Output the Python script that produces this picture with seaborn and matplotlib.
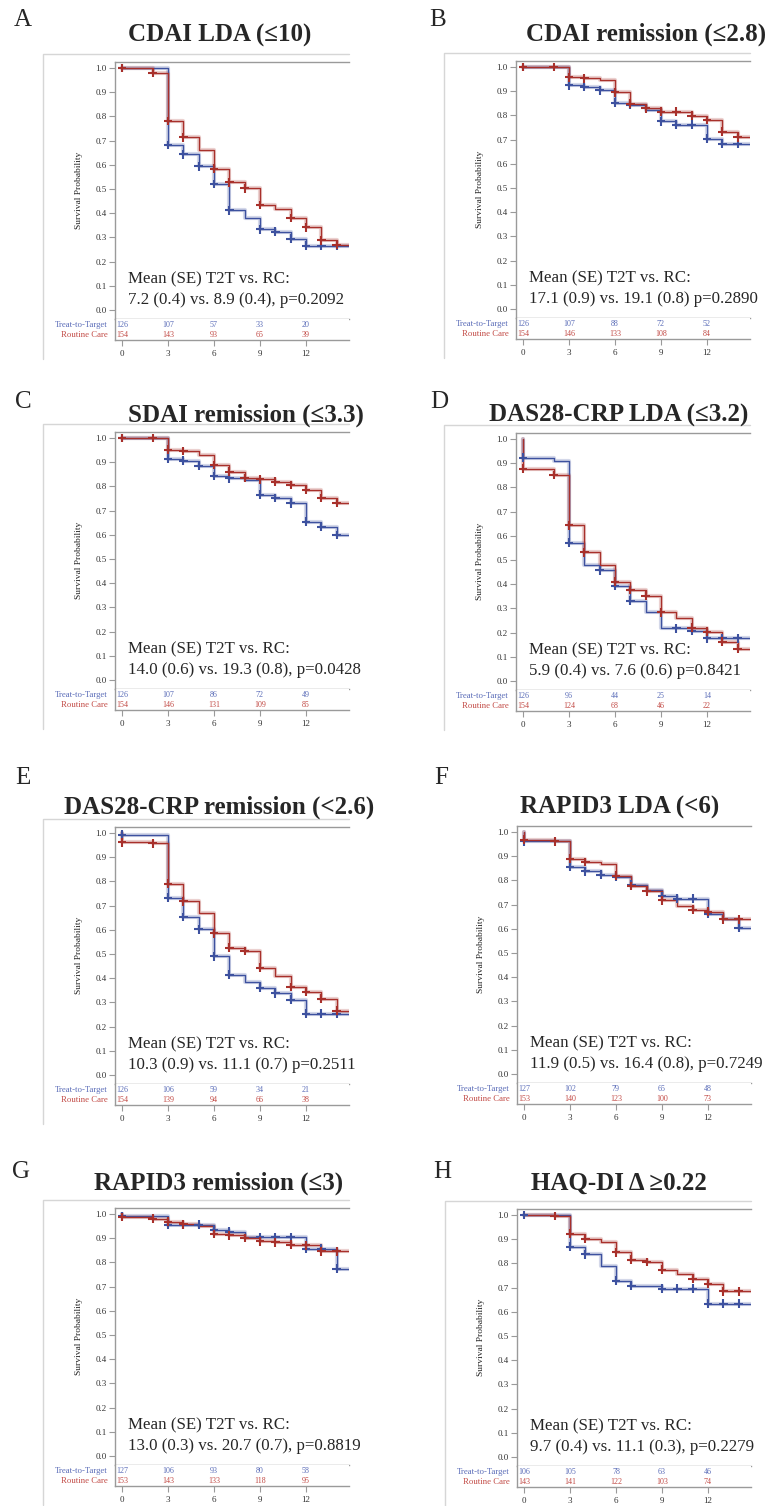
import numpy as np
import pandas as pd
import matplotlib.pyplot as plt
import seaborn as sns
from matplotlib.lines import Line2D


# Survival probability at months 0..14 (value holds from that month on)
MONTHS = list(range(15))

# panel titles and annotation texts
TITLES = ["CDAI LDA (≤10)", "CDAI remission (≤2.8)", "SDAI remission (≤3.3)",
          "DAS28-CRP LDA (≤3.2)", "DAS28-CRP remission (<2.6)", "RAPID3 LDA (<6)",
          "RAPID3 remission (≤3)", "HAQ-DI Δ ≥0.22"]
LETTERS = ["A", "B", "C", "D", "E", "F", "G", "H"]
STATS = ["7.2 (0.4) vs. 8.9 (0.4), p=0.2092",
         "17.1 (0.9) vs. 19.1 (0.8) p=0.2890",
         "14.0 (0.6) vs. 19.3 (0.8), p=0.0428",
         "5.9 (0.4) vs. 7.6 (0.6) p=0.8421",
         "10.3 (0.9) vs. 11.1 (0.7) p=0.2511",
         "11.9 (0.5) vs. 16.4 (0.8), p=0.7249",
         "13.0 (0.3) vs. 20.7 (0.7), p=0.8819",
         "9.7 (0.4) vs. 11.1 (0.3), p=0.2279"]

# Treat-to-Target curves
t2t_A = [1.0, 1.0, 1.0, 0.682, 0.643, 0.593, 0.521, 0.412, 0.380, 0.333, 0.324, 0.295, 0.266, 0.266, 0.266]
t2t_B = [1.0, 1.0, 1.0, 0.924, 0.917, 0.903, 0.853, 0.844, 0.823, 0.775, 0.762, 0.762, 0.704, 0.682, 0.682]
t2t_C = [1.0, 1.0, 1.0, 0.915, 0.906, 0.886, 0.843, 0.833, 0.825, 0.766, 0.752, 0.730, 0.654, 0.632, 0.599]
t2t_D = [0.923, 0.923, 0.911, 0.571, 0.480, 0.458, 0.394, 0.332, 0.286, 0.217, 0.217, 0.207, 0.176, 0.176, 0.176]
t2t_E = [0.993, 0.993, 0.993, 0.732, 0.653, 0.602, 0.490, 0.415, 0.383, 0.361, 0.337, 0.311, 0.253, 0.253, 0.253]
t2t_F = [0.962, 0.962, 0.962, 0.856, 0.837, 0.824, 0.816, 0.783, 0.760, 0.735, 0.725, 0.725, 0.662, 0.639, 0.603]
t2t_G = [0.992, 0.992, 0.992, 0.955, 0.955, 0.955, 0.935, 0.927, 0.904, 0.904, 0.904, 0.904, 0.856, 0.856, 0.774]
t2t_H = [1.0, 1.0, 1.0, 0.869, 0.838, 0.788, 0.728, 0.707, 0.707, 0.695, 0.695, 0.695, 0.634, 0.634, 0.634]

# Routine Care curves
rc_A = [1.0, 1.0, 0.981, 0.781, 0.714, 0.663, 0.584, 0.527, 0.503, 0.434, 0.419, 0.380, 0.342, 0.288, 0.270]
rc_B = [1.0, 1.0, 1.0, 0.958, 0.953, 0.947, 0.896, 0.849, 0.830, 0.816, 0.816, 0.799, 0.781, 0.733, 0.710]
rc_C = [1.0, 1.0, 1.0, 0.952, 0.946, 0.931, 0.888, 0.861, 0.835, 0.829, 0.820, 0.806, 0.786, 0.752, 0.731]
rc_D = [0.877, 0.877, 0.851, 0.643, 0.532, 0.481, 0.411, 0.376, 0.353, 0.284, 0.259, 0.221, 0.203, 0.163, 0.133]
rc_E = [0.961, 0.961, 0.957, 0.791, 0.718, 0.671, 0.585, 0.526, 0.512, 0.443, 0.411, 0.364, 0.343, 0.315, 0.266]
rc_F = [0.968, 0.968, 0.962, 0.890, 0.876, 0.869, 0.819, 0.777, 0.755, 0.717, 0.694, 0.679, 0.670, 0.639, 0.639]
rc_G = [0.988, 0.988, 0.981, 0.968, 0.957, 0.949, 0.917, 0.912, 0.901, 0.887, 0.883, 0.873, 0.871, 0.846, 0.846]
rc_H = [1.0, 1.0, 0.996, 0.923, 0.902, 0.887, 0.846, 0.816, 0.806, 0.774, 0.757, 0.737, 0.716, 0.684, 0.684]

# months with a censoring mark
cens_t2t = [[0, 3, 4, 5, 6, 7, 9, 10, 11, 12, 13, 14],
            [0, 3, 4, 5, 6, 7, 9, 10, 11, 12, 13, 14],
            [0, 3, 4, 5, 6, 7, 9, 10, 11, 12, 13, 14],
            [0, 3, 5, 6, 7, 10, 11, 12, 13, 14],
            [0, 3, 4, 5, 6, 7, 9, 10, 11, 12, 13, 14],
            [0, 3, 4, 5, 6, 7, 9, 10, 11, 12, 14],
            [0, 3, 4, 5, 6, 7, 9, 10, 11, 12, 13, 14],
            [0, 3, 4, 6, 7, 9, 10, 11, 12, 13, 14]]
cens_rc = [[0, 2, 3, 4, 6, 7, 8, 9, 11, 12, 13, 14],
           [0, 2, 3, 4, 6, 7, 8, 9, 10, 11, 12, 13, 14],
           [0, 2, 3, 4, 6, 7, 8, 9, 10, 11, 12, 13, 14],
           [0, 2, 3, 4, 6, 7, 8, 9, 11, 12, 13, 14],
           [0, 2, 3, 4, 6, 7, 8, 9, 11, 12, 13, 14],
           [0, 2, 3, 4, 6, 7, 8, 9, 11, 12, 13, 14],
           [0, 2, 3, 4, 6, 7, 8, 9, 10, 11, 12, 13, 14],
           [2, 3, 4, 6, 7, 8, 9, 11, 12, 13, 14]]

# numbers at risk at months 0, 3, 6, 9, 12
RISK_MONTHS = [0, 3, 6, 9, 12]
risk_t2t = [[126, 107, 57, 33, 20], [126, 107, 88, 72, 52], [126, 107, 86, 72, 49],
            [126, 96, 44, 25, 14], [126, 106, 59, 34, 21], [127, 102, 79, 65, 48],
            [127, 106, 93, 80, 58], [106, 105, 78, 63, 46]]
risk_rc = [[154, 143, 93, 65, 39], [154, 146, 133, 108, 84], [154, 146, 131, 109, 85],
           [154, 124, 68, 46, 22], [154, 139, 94, 66, 38], [153, 140, 123, 100, 73],
           [153, 143, 133, 118, 95], [143, 141, 122, 103, 74]]

T2T = [t2t_A, t2t_B, t2t_C, t2t_D, t2t_E, t2t_F, t2t_G, t2t_H]
RC = [rc_A, rc_B, rc_C, rc_D, rc_E, rc_F, rc_G, rc_H]

# layout in pixels: axes left, y of 1.0, letter pos, title pos, outer frame
LAYOUT = [(115, 68, (23, 20), (220, 35), True),
          (516, 67, (438, 20), (646, 34), True),
          (115, 438, (23, 402), (246, 415), True),
          (516, 439, (439, 402), (619, 415), True),
          (115, 833, (23, 778), (219, 807), True),
          (517, 832, (441, 778), (620, 807), False),
          (115, 1214, (21, 1172), (219, 1183), True),
          (517, 1215, (442, 1172), (619, 1183), True)]

W, H = 773, 1506
PXM = 15.33      # pixels per month
AX_W = 234
X0_OFF = 7
Y_SPAN = 242

BLUE = "#3d519f"
RED = "#a8302b"
BLUE_TXT = "#5a6cb8"
RED_TXT = "#c24a45"
GREY = "#9a9a9a"

sns.set_style("white")
plt.rcParams["font.family"] = ["Liberation Serif", "DejaVu Serif"]


def box(left, top, w, h):
    return [left / W, 1 - (top + h) / H, w / W, h / H]


fig = plt.figure(figsize=(W / 100, H / 100), dpi=100)
xlim = (-X0_OFF / PXM, (AX_W - X0_OFF) / PXM)
palette = {"Treat-to-Target": BLUE, "Routine Care": RED}

for i in range(8):
    L, y1, (lx, ly), (tx, ty), frame = LAYOUT[i]
    y0 = y1 + Y_SPAN

    # letter and title
    fig.text(lx / W, 1 - ly / H, LETTERS[i], fontsize=18, ha="center", va="center")
    fig.text(tx / W, 1 - ty / H, TITLES[i], fontsize=18, fontweight="bold",
             ha="center", va="center")

    if frame:
        fb = min(y0 + 49, H)
        fig.add_artist(Line2D([(L - 72) / W, (L - 72) / W, (L + AX_W) / W],
                              [1 - fb / H, 1 - (y1 - 14) / H, 1 - (y1 - 14) / H],
                              color="#d6d6d6", lw=1))

    # survival curves
    rows = []
    for name, vals in [("Treat-to-Target", T2T[i]), ("Routine Care", RC[i])]:
        rows.append({"month": 0, "surv": 1.0, "group": name})
        for m, v in zip(MONTHS, vals):
            rows.append({"month": m, "surv": v, "group": name})
        rows.append({"month": 15, "surv": vals[-1], "group": name})
    df = pd.DataFrame(rows)

    cens = []
    for name, vals, cm in [("Treat-to-Target", T2T[i], cens_t2t[i]),
                           ("Routine Care", RC[i], cens_rc[i])]:
        for m in cm:
            cens.append({"month": m, "surv": vals[m], "group": name})
    cdf = pd.DataFrame(cens)

    ax = fig.add_axes(box(L, y1 - 6, AX_W, Y_SPAN + 15))
    sns.lineplot(data=df, x="month", y="surv", hue="group", palette=palette,
                 estimator=None, sort=False, drawstyle="steps-post", lw=3.0,
                 alpha=0.22, legend=False, ax=ax)
    sns.lineplot(data=df, x="month", y="surv", hue="group", palette=palette,
                 estimator=None, sort=False, drawstyle="steps-post", lw=1.0,
                 legend=False, ax=ax)
    sns.scatterplot(data=cdf, x="month", y="surv", hue="group", palette=palette,
                    marker="+", s=40, linewidth=1.5, legend=False, ax=ax, zorder=5)

    ax.set_xlim(xlim)
    ax.set_ylim(-9 / Y_SPAN, 1 + 6 / Y_SPAN)
    ax.set_xticks([])
    ax.set_yticks(np.arange(0, 1.01, 0.1))
    ax.set_yticklabels([f"{v:.1f}" for v in np.arange(0, 1.01, 0.1)])
    ax.tick_params(axis="y", length=4, width=0.8, color=GREY, labelsize=6.5,
                   labelcolor="#333333", pad=2, left=True)
    ax.set_xlabel("")
    ax.set_ylabel("Survival Probability", fontsize=6.8, color="#222222")
    ax.yaxis.set_label_coords(-32 / AX_W, 0.5)
    ax.spines["right"].set_visible(False)
    for s in ["left", "top", "bottom"]:
        ax.spines[s].set_color(GREY)
        ax.spines[s].set_linewidth(1.0)

    ax.text(6 / PXM, 31 / Y_SPAN, "Mean (SE) T2T vs. RC:", fontsize=12.2,
            ha="left", va="center")
    ax.text(6 / PXM, 10 / Y_SPAN, STATS[i], fontsize=12.2, ha="left", va="center")

    # numbers at risk
    rax = fig.add_axes(box(L, y0 + 9, AX_W, 21))
    rax.set_xlim(xlim)
    rax.set_ylim(0, 1)
    rax.set_yticks([])
    rax.set_xticks(RISK_MONTHS)
    rax.set_xticklabels([str(m) for m in RISK_MONTHS])
    rax.tick_params(axis="x", length=4, width=0.8, color=GREY, labelsize=6.5,
                    labelcolor="#333333", pad=3, bottom=True)
    rax.spines["right"].set_visible(False)
    rax.spines["top"].set_visible(False)
    for s in ["left", "bottom"]:
        rax.spines[s].set_color(GREY)
        rax.spines[s].set_linewidth(1.0)
    rax.text(-7 / AX_W, 0.71, "Treat-to-Target", color=BLUE_TXT, fontsize=6.3,
             ha="right", va="center", transform=rax.transAxes)
    rax.text(-7 / AX_W, 0.24, "Routine Care", color=RED_TXT, fontsize=6.3,
             ha="right", va="center", transform=rax.transAxes)
    for m, a, b in zip(RISK_MONTHS, risk_t2t[i], risk_rc[i]):
        rax.text(m, 0.71, str(a), color=BLUE_TXT, fontsize=5.8, ha="center", va="center")
        rax.text(m, 0.24, str(b), color=RED_TXT, fontsize=5.8, ha="center", va="center")

fig.savefig("out.png", dpi=100)
